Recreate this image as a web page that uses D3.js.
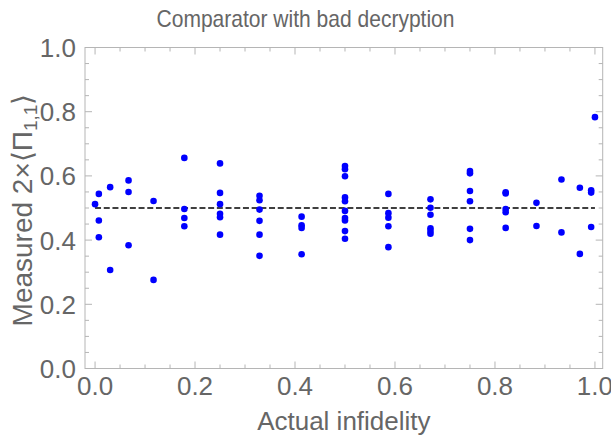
<!DOCTYPE html>
<html>
<head>
<meta charset="utf-8">
<script src="https://cdn.jsdelivr.net/npm/d3@7"></script>
<style>
  body { margin: 0; background: #fff; }
  text { font-family: "Liberation Sans", Arial, sans-serif; }
</style>
</head>
<body>
<div id="chart"></div>
<script>
// actual infidelity of each group of runs
var infidelity = [0, 0.0076, 0.0302, 0.067, 0.117, 0.1786, 0.25, 0.329, 0.4132, 0.5,
                  0.5868, 0.671, 0.75, 0.8214, 0.883, 0.933, 0.9698, 0.9924, 1];

// measured 2x<Pi_11> for each group
var measured = [
  [0.512],
  [0.544, 0.461, 0.409],
  [0.565, 0.307],
  [0.586, 0.550, 0.384],
  [0.522, 0.276],
  [0.656, 0.497, 0.469, 0.443],
  [0.639, 0.547, 0.512, 0.482, 0.471, 0.417],
  [0.538, 0.524, 0.495, 0.460, 0.417, 0.351],
  [0.473, 0.446, 0.438, 0.356],
  [0.631, 0.621, 0.599, 0.533, 0.521, 0.491, 0.469, 0.461, 0.428, 0.404],
  [0.544, 0.484, 0.470, 0.443, 0.378],
  [0.527, 0.501, 0.479, 0.437, 0.428, 0.420],
  [0.615, 0.608, 0.553, 0.521, 0.435, 0.400],
  [0.549, 0.545, 0.497, 0.487, 0.438],
  [0.516, 0.444],
  [0.589, 0.424],
  [0.563, 0.357],
  [0.555, 0.548, 0.441],
  [0.783]
];

var expected = 0.5;
var xTicks = [0, 0.2, 0.4, 0.6, 0.8, 1.0];
var yTicks = [0, 0.2, 0.4, 0.6, 0.8, 1.0];

(function() {
  var points = [];
  infidelity.forEach(function(x, i) {
    measured[i].forEach(function(y) { points.push({x: x, y: y}); });
  });

  var width = 611, height = 437;
  var left = 85, right = 602.7, top = 47.5, bottom = 368.5;

  var x = d3.scaleLinear().domain([-0.0201, 1.0155]).range([left, right]);
  var y = d3.scaleLinear().domain([0, 1]).range([bottom, top]);

  var svg = d3.select("#chart").append("svg")
      .attr("width", width)
      .attr("height", height);

  var frameColor = "#b5b5b5";
  var labelColor = "#666666";

  // minor ticks every 0.05, skipping the major ones
  function minor(step, lo, hi) {
    return d3.range(Math.round(lo / step), Math.round(hi / step) + 1)
      .map(function(k) { return +(k * step).toFixed(4); })
      .filter(function(v) { return Math.abs(v / 0.2 - Math.round(v / 0.2)) > 1e-6; });
  }

  var xMinor = minor(0.05, 0, 1.0);
  var yMinor = minor(0.05, 0, 1.0);

  var g = svg.append("g");

  // frame
  g.append("rect")
      .attr("x", left).attr("y", top)
      .attr("width", right - left).attr("height", bottom - top)
      .attr("fill", "none").attr("stroke", frameColor).attr("stroke-width", 1);

  // ticks on all four sides
  function ticksX(vals, len) {
    g.selectAll(null).data(vals).enter().append("line")
        .attr("x1", function(d) { return x(d); }).attr("x2", function(d) { return x(d); })
        .attr("y1", bottom).attr("y2", bottom - len)
        .attr("stroke", frameColor);
    g.selectAll(null).data(vals).enter().append("line")
        .attr("x1", function(d) { return x(d); }).attr("x2", function(d) { return x(d); })
        .attr("y1", top).attr("y2", top + len)
        .attr("stroke", frameColor);
  }
  function ticksY(vals, len) {
    g.selectAll(null).data(vals).enter().append("line")
        .attr("y1", function(d) { return y(d); }).attr("y2", function(d) { return y(d); })
        .attr("x1", left).attr("x2", left + len)
        .attr("stroke", frameColor);
    g.selectAll(null).data(vals).enter().append("line")
        .attr("y1", function(d) { return y(d); }).attr("y2", function(d) { return y(d); })
        .attr("x1", right).attr("x2", right - len)
        .attr("stroke", frameColor);
  }
  ticksX(xTicks, 7);
  ticksX(xMinor, 4);
  ticksY(yTicks, 7);
  ticksY(yMinor, 4);

  // tick labels
  g.selectAll(null).data(xTicks).enter().append("text")
      .attr("x", function(d) { return x(d); })
      .attr("y", 395)
      .attr("text-anchor", "middle")
      .attr("font-size", 26)
      .attr("fill", labelColor)
      .text(function(d) { return d.toFixed(1); });

  g.selectAll(null).data(yTicks).enter().append("text")
      .attr("x", 76)
      .attr("y", function(d) { return y(d) + 9.5; })
      .attr("text-anchor", "end")
      .attr("font-size", 26)
      .attr("fill", labelColor)
      .text(function(d) { return d.toFixed(1); });

  // reference line
  g.append("line")
      .attr("x1", x(0)).attr("x2", x(1))
      .attr("y1", y(expected)).attr("y2", y(expected))
      .attr("stroke", "#000").attr("stroke-width", 1.6)
      .attr("stroke-dasharray", "6,2.7");

  // points
  g.selectAll("circle").data(points).enter().append("circle")
      .attr("cx", function(d) { return x(d.x); })
      .attr("cy", function(d) { return y(d.y); })
      .attr("r", 3.3)
      .attr("fill", "#0000ff");

  // title and axis labels
  svg.append("text")
      .attr("x", width / 2).attr("y", 27)
      .attr("text-anchor", "middle")
      .attr("font-size", 24)
      .attr("textLength", 298)
      .attr("lengthAdjust", "spacingAndGlyphs")
      .attr("fill", labelColor)
      .text("Comparator with bad decryption");

  svg.append("text")
      .attr("x", (left + right) / 2).attr("y", 430)
      .attr("text-anchor", "middle")
      .attr("font-size", 26)
      .attr("fill", labelColor)
      .text("Actual infidelity");

  var yl = svg.append("text")
      .attr("transform", "translate(32," + ((top + bottom) / 2 + 2) + ") rotate(-90)")
      .attr("text-anchor", "middle")
      .attr("font-size", 28)
      .attr("fill", labelColor);
  yl.append("tspan").text("Measured 2×⟨Π");
  yl.append("tspan").attr("font-size", 19).attr("dy", 5).text("1,1");
  yl.append("tspan").attr("dy", -5).text("⟩");
})();
</script>
</body>
</html>
